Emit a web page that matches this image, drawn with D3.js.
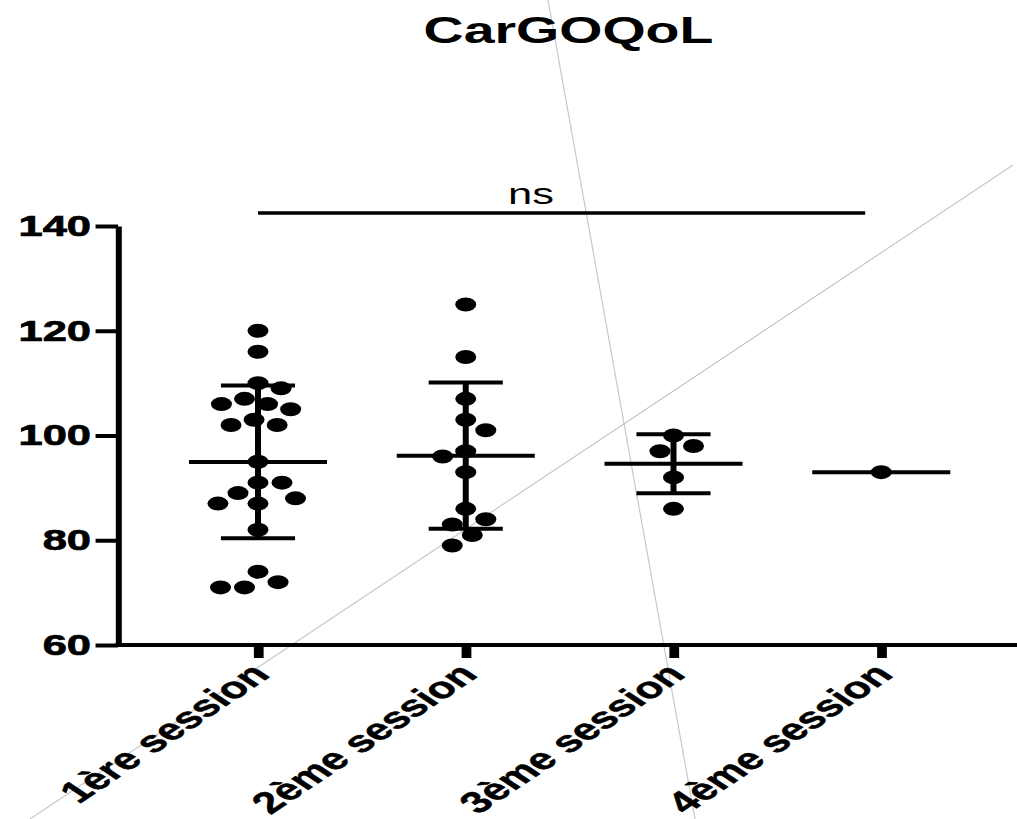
<!DOCTYPE html>
<html>
<head>
<meta charset="utf-8">
<script src="https://cdn.jsdelivr.net/npm/d3@7"></script>
<style>
  body { margin: 0; background: #fff; }
  text { font-family: "Liberation Sans", Arial, sans-serif; }
</style>
</head>
<body>
<script>
// chart data
var categories = ["1ère session", "2ème session", "3ème session", "4ème session"];
var session1 = [120, 116, 110, 109, 107, 106, 106, 105, 103, 102, 102, 95, 91, 91, 89, 88, 87, 87, 82, 74, 72, 71, 71];
var session2 = [125, 115, 107, 103, 101, 97, 96, 93, 86, 84, 83, 81, 79];
var session3 = [100, 98, 97, 92, 86];
var session4 = [93];
var yTicks = [60, 80, 100, 120, 140];
var title = "CarGOQoL";
var sigLabel = "ns";

var groups = [session1, session2, session3, session4];

var W = 1017, H = 819;
var sx = 1.5; // the whole picture is stretched sideways

var svg = d3.select("body").append("svg")
  .attr("width", W)
  .attr("height", H);

// the two thin grey strokes that cross the picture
var grey = svg.append("g").attr("stroke", "#c8c8c8").attr("stroke-width", 1.2);
grey.append("line").attr("x1", 30).attr("y1", 819).attr("x2", 1013).attr("y2", 165);
grey.append("line").attr("x1", 548).attr("y1", 0).attr("x2", 695).attr("y2", 819);

var g = svg.append("g").attr("transform", "scale(" + sx + ",1)");

// scales (unstretched coordinates)
var x = d3.scalePoint().domain(categories).range([172, 587.5]);
var y = d3.scaleLinear().domain([60, 140]).range([645, 226]);

var r = 7;

// beeswarm: place each dot as near the centre as possible,
// using an elliptic keep-out zone a bit bigger than the dot
function swarm(values) {
  var pts = values.map(function (v) { return { v: v, y: y(v) }; })
    .sort(function (a, b) { return a.y - b.y; });
  var placed = [];
  var side = 1;
  var dx = 16, dy = 19;
  pts.forEach(function (p) {
    var ints = placed.filter(function (q) { return Math.abs(q.y - p.y) < dy; })
      .map(function (q) {
        var t = (q.y - p.y) / dy;
        var w = dx * Math.sqrt(1 - t * t);
        return [q.x - w, q.x + w];
      });
    var cands = [0];
    ints.forEach(function (i) { cands.push(i[0], i[1]); });
    var ok = cands.filter(function (c) {
      return ints.every(function (i) { return c <= i[0] + 1e-6 || c >= i[1] - 1e-6; });
    });
    ok.sort(function (a, b) {
      var diff = Math.round((Math.abs(a) - Math.abs(b)) * 1000);
      return diff || (b * side - a * side);
    });
    p.x = ok[0];
    if (Math.abs(p.x) > 1e-6) side = -Math.sign(p.x);
    placed.push(p);
  });
  return placed;
}

// y axis
var yAxis = g.append("g")
  .attr("transform", "translate(78.7,0)")
  .call(d3.axisLeft(y).tickValues(yTicks).tickSize(15).tickSizeOuter(0).tickPadding(3));
yAxis.select(".domain").attr("stroke-width", 4);
yAxis.selectAll(".tick line").attr("stroke-width", 4);
yAxis.selectAll(".tick text")
  .attr("font-size", 29)
  .attr("font-weight", "bold")
  .attr("fill", "#000")
  .attr("stroke", "#000")
  .attr("stroke-width", 0.7)
  .attr("font-family", "Liberation Sans, Arial, sans-serif");

// x axis
var xAxis = g.append("g")
  .attr("transform", "translate(0,645)")
  .call(d3.axisBottom(x).tickSize(13).tickSizeOuter(0).tickFormat(""));
xAxis.select(".domain").remove();
xAxis.selectAll(".tick line").attr("stroke-width", 6.5);
g.append("line")
  .attr("x1", 77).attr("x2", 700)
  .attr("y1", 645).attr("y2", 645)
  .attr("stroke", "#000").attr("stroke-width", 4);

g.selectAll(".xlabel")
  .data(categories)
  .enter().append("text")
  .attr("class", "xlabel")
  .attr("transform", function (d) { return "translate(" + (x(d) + 9) + ",676) rotate(-45)"; })
  .attr("text-anchor", "end")
  .attr("font-size", 30)
  .attr("font-weight", "bold")
  .attr("stroke", "#000")
  .attr("stroke-width", 0.5)
  .text(function (d) { return d; });

// mean and SD bars
groups.forEach(function (vals, i) {
  var cx = x(categories[i]);
  var m = d3.mean(vals);
  var sd = vals.length > 1 ? d3.deviation(vals) : 0;
  var bars = g.append("g").attr("stroke", "#000").attr("stroke-width", 4);
  if (sd > 0) {
    bars.append("line").attr("x1", cx).attr("x2", cx).attr("y1", y(m + sd)).attr("y2", y(m - sd));
    bars.append("line").attr("x1", cx - 24.7).attr("x2", cx + 24.7).attr("y1", y(m + sd)).attr("y2", y(m + sd));
    bars.append("line").attr("x1", cx - 24.7).attr("x2", cx + 24.7).attr("y1", y(m - sd)).attr("y2", y(m - sd));
  }
  bars.append("line").attr("x1", cx - 46).attr("x2", cx + 46).attr("y1", y(m)).attr("y2", y(m));

  g.append("g").selectAll("circle")
    .data(swarm(vals))
    .enter().append("circle")
    .attr("cx", function (d) { return cx + d.x; })
    .attr("cy", function (d) { return d.y; })
    .attr("r", r)
    .attr("fill", "#000");
});

// significance line
g.append("line")
  .attr("x1", x(categories[0])).attr("x2", x(categories[3]) - 10.7)
  .attr("y1", 213).attr("y2", 213)
  .attr("stroke", "#000").attr("stroke-width", 3.5);
g.append("text")
  .attr("x", 354).attr("y", 204)
  .attr("text-anchor", "middle")
  .attr("font-size", 29)
  .text(sigLabel);

// title
g.append("text")
  .attr("x", 379).attr("y", 43)
  .attr("text-anchor", "middle")
  .attr("font-size", 37)
  .attr("font-weight", "bold")
  .text(title);
</script>
</body>
</html>
